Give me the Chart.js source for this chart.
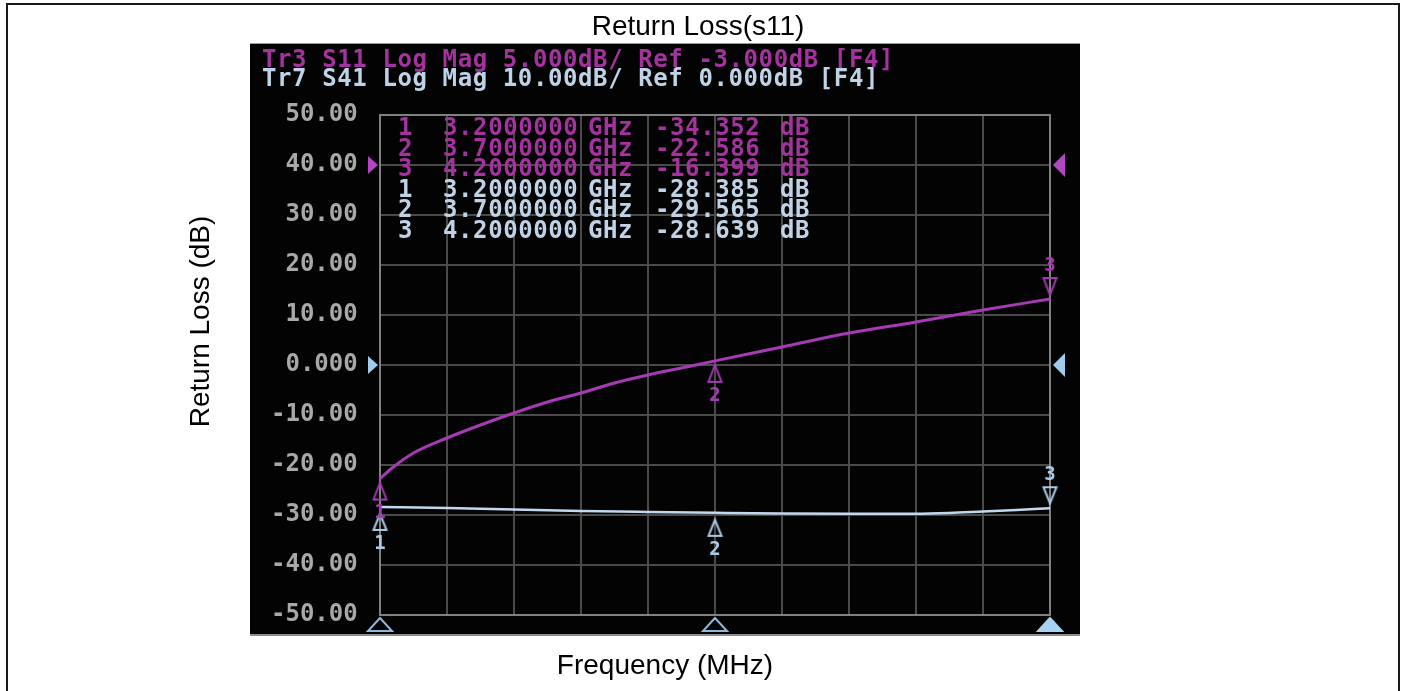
<!DOCTYPE html>
<html>
<head>
<meta charset="utf-8">
<script src="https://cdn.jsdelivr.net/npm/chart.js@4.4.1/dist/chart.umd.min.js"></script>
<style>
html,body{margin:0;padding:0;background:#fff;}
#wrap{width:1405px;height:691px;position:relative;overflow:hidden;}
canvas{display:block;}
</style>
</head>
<body>
<div id="wrap"><canvas id="c" width="1405" height="691"></canvas></div>
<script>
// ---------------- data ----------------
const s11Freqs = [3200, 3220, 3250, 3300, 3350, 3400, 3450, 3500, 3550, 3600, 3650, 3700, 3800, 3900, 4000, 4100, 4200];
const s11dB    = [-34.352, -33.2, -31.8, -30.3, -29.0, -27.8, -26.7, -25.8, -24.8, -24.0, -23.3, -22.586, -21.2, -19.8, -18.7, -17.5, -16.399];

const s41Freqs = [3200, 3300, 3400, 3500, 3600, 3700, 3800, 3900, 4000, 4050, 4100, 4150, 4200];
const s41dB    = [-28.385, -28.6, -28.9, -29.2, -29.4, -29.565, -29.7, -29.75, -29.75, -29.6, -29.3, -29.0, -28.639];

const markerFreqs = [3200, 3700, 4200];
const markerLabels = ['1', '2', '3'];
const s11MarkerVals = [-34.352, -22.586, -16.399];
const s41MarkerVals = [-28.385, -29.565, -28.639];

const gridFreqs = [3200, 3300, 3400, 3500, 3600, 3700, 3800, 3900, 4000, 4100, 4200];
const yTicks = [-50, -40, -30, -20, -10, 0, 10, 20, 30, 40, 50];
const yTickLabels = ['-50.00', '-40.00', '-30.00', '-20.00', '-10.00', '0.000', '10.00', '20.00', '30.00', '40.00', '50.00'];

const headerLines = ['Tr3 S11 Log Mag 5.000dB/ Ref -3.000dB [F4]', 'Tr7 S41 Log Mag 10.00dB/ Ref 0.000dB [F4]'];

// instrument scale settings (S41 is the displayed graticule scale)
const S11_REF = -3, S11_PER_DIV = 5, S11_REF_POS = 40;   // S11: ref -3 dB at the 40 graticule line, 5 dB/div
const S41_PER_DIV = 10, S41_REF_POS = 0;                 // S41: ref 0 dB at the 0 line, 10 dB/div

// ---------------- ranges / styles ----------------
const X_MIN = 3006, X_MAX = 4244.8;
const Y_MIN = -54.2, Y_MAX = 71.6;
const k = S41_PER_DIV / S11_PER_DIV;
const Y2_MIN = (Y_MIN - S11_REF_POS) / k + S11_REF;
const Y2_MAX = (Y_MAX - S11_REF_POS) / k + S11_REF;
const SCREEN_TOP = 36.6;   // analyzer screen starts this far below the plot-area top

const MAG = '#a63ab4';
const MAG_TXT = '#a4329f';
const BLU = '#c2d8ee';
const BLU_TXT = '#c0d3e6';
const MONO = '"DejaVu Sans Mono", "Liberation Mono", monospace';
const SANS = '"Liberation Sans", Arial, Helvetica, sans-serif';

function triCanvas(w, h, gap, where, stroke, fill) {
  const c = document.createElement('canvas');
  const W = w + 6, H = 2 * (h + gap + 3);
  c.width = W; c.height = H;
  const g = c.getContext('2d');
  const cx = W / 2, cy = H / 2;
  g.beginPath();
  if (where === 'below') {
    g.moveTo(cx, cy + gap); g.lineTo(cx - w / 2, cy + gap + h); g.lineTo(cx + w / 2, cy + gap + h);
  } else {
    g.moveTo(cx, cy - gap); g.lineTo(cx - w / 2, cy - gap - h); g.lineTo(cx + w / 2, cy - gap - h);
  }
  g.closePath();
  if (fill) { g.fillStyle = fill; g.fill(); }
  g.strokeStyle = stroke; g.lineWidth = 2; g.stroke();
  return c;
}
const magBelow = triCanvas(13, 17, 4, 'below', MAG, null);
const magAbove = triCanvas(13, 17, 4, 'above', MAG, null);
const bluBelow = triCanvas(13, 16, 7, 'below', '#a9cbe9', null);
const bluAbove = triCanvas(13, 16, 5, 'above', '#a9cbe9', null);
const stimHollow = triCanvas(24, 13, 3, 'below', '#8fb7da', null);
const stimFilled = triCanvas(24, 13, 3, 'below', '#a8d2f2', '#a8d2f2');

const vnaPlugin = {
  id: 'vna',
  beforeDraw(chart) {
    const {ctx, chartArea: a, scales: {x, y}} = chart;
    ctx.save();
    // outer frame
    ctx.strokeStyle = '#1a1a1a'; ctx.lineWidth = 2;
    ctx.strokeRect(7, 4, 1392, 760);
    // analyzer screen
    const st = a.top + SCREEN_TOP;
    ctx.fillStyle = '#040303';
    ctx.fillRect(a.left, st, a.right - a.left, a.bottom - st);
    ctx.fillStyle = '#8c8c8c';
    ctx.fillRect(a.left, a.bottom - 2, a.right - a.left, 2);
    // graticule
    const gx0 = x.getPixelForValue(gridFreqs[0]), gx1 = x.getPixelForValue(gridFreqs[gridFreqs.length - 1]);
    const gyTop = y.getPixelForValue(yTicks[yTicks.length - 1]), gyBot = y.getPixelForValue(yTicks[0]);
    ctx.strokeStyle = '#4a4a4a'; ctx.lineWidth = 2;
    ctx.beginPath();
    gridFreqs.forEach(f => { const px = Math.round(x.getPixelForValue(f)); ctx.moveTo(px, gyTop); ctx.lineTo(px, gyBot); });
    yTicks.forEach(v => { const py = Math.round(y.getPixelForValue(v)); ctx.moveTo(gx0, py); ctx.lineTo(gx1, py); });
    ctx.stroke();
    ctx.strokeStyle = '#808080'; ctx.lineWidth = 2;
    ctx.strokeRect(Math.round(gx0), Math.round(gyTop), Math.round(gx1 - gx0), Math.round(gyBot - gyTop));
    ctx.restore();
  },
  afterDatasetsDraw(chart) {
    const {ctx, chartArea: a, scales: {x, y}} = chart;
    const gx0 = x.getPixelForValue(gridFreqs[0]), gx1 = x.getPixelForValue(gridFreqs[gridFreqs.length - 1]);
    const gyTop = y.getPixelForValue(yTicks[yTicks.length - 1]);
    const st = a.top + SCREEN_TOP;
    ctx.save();
    // reference-level triangles
    const refs = [{pos: S11_REF_POS, c: '#b445c4'}, {pos: S41_REF_POS, c: '#9fcbee'}];
    refs.forEach(r => {
      const py = y.getPixelForValue(r.pos);
      ctx.fillStyle = r.c;
      ctx.beginPath(); ctx.moveTo(gx0 - 2, py); ctx.lineTo(gx0 - 12, py - 9); ctx.lineTo(gx0 - 12, py + 9); ctx.closePath(); ctx.fill();
      ctx.beginPath(); ctx.moveTo(gx1 + 3, py); ctx.lineTo(gx1 + 15, py - 12); ctx.lineTo(gx1 + 15, py + 12); ctx.closePath(); ctx.fill();
    });
    // marker numbers
    ctx.font = 'bold 19px ' + MONO; ctx.textAlign = 'center'; ctx.textBaseline = 'middle';
    [[0, MAG], [1, '#a9cbe9']].forEach(([di, col]) => {
      const meta = chart.getDatasetMeta(di);
      ctx.fillStyle = col;
      meta.data.forEach((p, j) => {
        if (j === markerLabels.length - 1) ctx.fillText(markerLabels[j], p.x, p.y - 33);
        else ctx.fillText(markerLabels[j], p.x, p.y + (di === 0 ? 35 : 37));
      });
    });
    // header lines
    ctx.textAlign = 'left';
    ctx.font = 'bold 24px ' + MONO;
    try { ctx.letterSpacing = '0.6px'; } catch (e) {}
    ctx.fillStyle = MAG_TXT; ctx.fillText(headerLines[0], a.left + 12, st + 17);
    ctx.fillStyle = BLU_TXT; ctx.fillText(headerLines[1], a.left + 12, st + 36);
    // marker table
    const rows = [];
    markerFreqs.forEach((f, i) => rows.push({n: markerLabels[i], f, v: s11MarkerVals[i], c: MAG_TXT}));
    markerFreqs.forEach((f, i) => rows.push({n: markerLabels[i], f, v: s41MarkerVals[i], c: BLU_TXT}));
    rows.forEach((r, i) => {
      const yy = gyTop + 14 + 20.5 * i;
      ctx.fillStyle = r.c;
      ctx.fillText(r.n, gx0 + 18, yy);
      ctx.fillText((r.f / 1000).toFixed(7), gx0 + 63, yy);
      ctx.fillText('GHz', gx0 + 208, yy);
      ctx.fillText(r.v.toFixed(3), gx0 + 275, yy);
      ctx.fillText('dB', gx0 + 400, yy);
    });
    ctx.restore();
  }
};

const chart = new Chart(document.getElementById('c'), {
  type: 'scatter',
  data: {
    datasets: [
      {
        label: 'S11 markers', yAxisID: 'y2', order: 0,
        data: markerFreqs.map((f, i) => ({x: f, y: s11MarkerVals[i]})),
        showLine: false, pointRadius: 6,
        pointStyle: c => c.dataIndex === markerFreqs.length - 1 ? magAbove : magBelow
      },
      {
        label: 'S41 markers', yAxisID: 'y', order: 0,
        data: markerFreqs.map((f, i) => ({x: f, y: s41MarkerVals[i]})),
        showLine: false, pointRadius: 6,
        pointStyle: c => c.dataIndex === markerFreqs.length - 1 ? bluAbove : bluBelow
      },
      {
        label: 'Stimulus markers', yAxisID: 'y', order: 0,
        data: markerFreqs.map(f => ({x: f, y: yTicks[0]})),
        showLine: false, pointRadius: 6,
        pointStyle: c => c.dataIndex === markerFreqs.length - 1 ? stimFilled : stimHollow
      },
      {
        label: 'Tr3 S11', yAxisID: 'y2', order: 1,
        data: s11Freqs.map((f, i) => ({x: f, y: s11dB[i]})),
        showLine: true, borderColor: MAG, borderWidth: 3, pointRadius: 0,
        cubicInterpolationMode: 'monotone'
      },
      {
        label: 'Tr7 S41', yAxisID: 'y', order: 2,
        data: s41Freqs.map((f, i) => ({x: f, y: s41dB[i]})),
        showLine: true, borderColor: BLU, borderWidth: 2.5, pointRadius: 0,
        cubicInterpolationMode: 'monotone'
      }
    ]
  },
  options: {
    responsive: false,
    devicePixelRatio: 1,
    animation: false,
    events: [],
    layout: {padding: {left: 0, right: 9, top: 0, bottom: 0}},
    plugins: {
      legend: {display: false},
      tooltip: {enabled: false},
      title: {
        display: true, text: 'Return Loss(s11)', color: '#000',
        font: {family: SANS, size: 28, weight: 'normal', lineHeight: 1.2},
        padding: {top: 3, bottom: -36.6}
      }
    },
    scales: {
      x: {
        type: 'linear', position: 'bottom', min: X_MIN, max: X_MAX,
        grid: {display: false}, border: {display: false},
        ticks: {display: false},
        title: {display: true, text: 'Frequency (MHz)', color: '#000',
          font: {family: SANS, size: 28, lineHeight: 1.2}, padding: {top: 0, bottom: 8}},
        afterFit: s => { s.height = 55; s.paddingLeft = 0; s.paddingRight = 0; }
      },
      y: {
        type: 'linear', position: 'left', min: Y_MIN, max: Y_MAX,
        grid: {display: false}, border: {display: false},
        afterBuildTicks: s => { s.ticks = yTicks.map(v => ({value: v})); },
        ticks: {
          autoSkip: false, mirror: true, crossAlign: 'far', padding: 21,
          color: '#a8a8a8', font: {family: MONO, size: 24, weight: 'bold'},
          callback: (v, i) => yTickLabels[i]
        },
        title: {display: true, text: 'Return Loss (dB)', color: '#000',
          font: {family: SANS, size: 28, lineHeight: 1.2}, padding: {top: 184, bottom: 0}},
        afterFit: s => { s.width = 250; s.paddingTop = 0; s.paddingBottom = 0; }
      },
      y2: {
        type: 'linear', position: 'right', min: Y2_MIN, max: Y2_MAX,
        grid: {display: false}, border: {display: false},
        ticks: {display: false},
        afterFit: s => { s.width = 316; s.paddingTop = 0; s.paddingBottom = 0; }
      }
    }
  },
  plugins: [vnaPlugin]
});
</script>
</body>
</html>
